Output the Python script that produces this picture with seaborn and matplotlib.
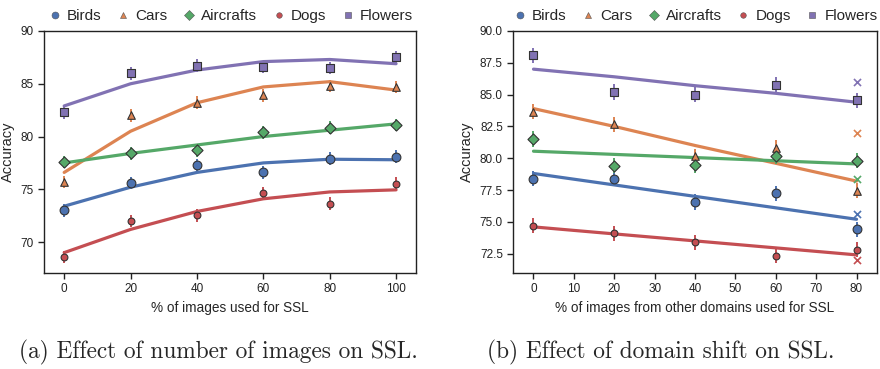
import numpy as np
import pandas as pd
import matplotlib
matplotlib.use("Agg")
import matplotlib.pyplot as plt
from matplotlib.lines import Line2D
import seaborn as sns

# --- data ---
datasets = ["Birds", "Cars", "Aircrafts", "Dogs", "Flowers"]

# (a) % of images used for SSL
pct_used = [0, 20, 40, 60, 80, 100]
acc_used = {
    "Birds":     [73.0, 75.6, 77.3, 76.6, 77.9, 78.1],
    "Cars":      [75.7, 82.0, 83.2, 83.9, 84.8, 84.7],
    "Aircrafts": [77.6, 78.4, 78.7, 80.4, 80.85, 81.1],
    "Dogs":      [68.6, 72.0, 72.55, 74.65, 73.65, 75.55],
    "Flowers":   [82.3, 86.0, 86.7, 86.6, 86.5, 87.5],
}
fit_used = {
    "Birds":     [73.4, 75.2, 76.6, 77.5, 77.85, 77.8],
    "Cars":      [76.6, 80.5, 83.2, 84.7, 85.2, 84.4],
    "Aircrafts": [77.5, 78.4, 79.2, 80.0, 80.6, 81.2],
    "Dogs":      [69.0, 71.2, 72.9, 74.1, 74.75, 74.95],
    "Flowers":   [82.9, 85.0, 86.3, 87.1, 87.3, 86.9],
}

# (b) % of images from other domains
pct_other = [0, 20, 40, 60, 80]
acc_other = {
    "Birds":     [78.4, 78.4, 76.55, 77.25, 74.4],
    "Cars":      [83.65, 82.65, 80.15, 80.8, 77.45],
    "Aircrafts": [81.5, 79.4, 79.45, 80.15, 79.8],
    "Dogs":      [74.7, 74.1, 73.4, 72.35, 72.8],
    "Flowers":   [88.1, 85.2, 85.0, 85.75, 84.55],
}
fit_other = {
    "Birds":     [78.8, 77.9, 77.0, 76.1, 75.2],
    "Cars":      [83.9, 82.5, 81.0, 79.6, 78.2],
    "Aircrafts": [80.55, 80.3, 80.05, 79.8, 79.55],
    "Dogs":      [74.6, 74.05, 73.5, 72.95, 72.4],
    "Flowers":   [87.0, 86.4, 85.7, 85.1, 84.4],
}
# extra 'x' marks at 80%
cross_x = 80
cross_acc = {"Birds": 75.6, "Cars": 82.0, "Aircrafts": 78.35, "Dogs": 72.0, "Flowers": 86.0}

ci_half = 0.6

sns.set_theme(style="ticks")
plt.rcParams["font.family"] = ["Liberation Sans", "DejaVu Sans"]

colors = dict(zip(datasets, sns.color_palette("deep", 5)))
markers = {"Birds": "o", "Cars": "^", "Aircrafts": "D", "Dogs": "o", "Flowers": "s"}
msize = {"Birds": 40, "Cars": 30, "Aircrafts": 32, "Dogs": 24, "Flowers": 32}


def long_df(x, table):
    rows = []
    for name in datasets:
        for xi, yi in zip(x, table[name]):
            rows.append({"x": xi, "acc": yi, "dataset": name})
    return pd.DataFrame(rows)


def draw_panel(ax, x, acc, fit, crosses=None):
    pts = long_df(x, acc)
    lines = long_df(x, fit)
    sns.lineplot(data=lines, x="x", y="acc", hue="dataset", palette=colors,
                 lw=2.3, legend=False, ax=ax, zorder=2)
    for name in datasets:
        d = pts[pts.dataset == name]
        ax.vlines(d.x, d.acc - ci_half, d.acc + ci_half, color=colors[name], lw=1.4, zorder=3)
        sns.scatterplot(data=d, x="x", y="acc", color=colors[name], marker=markers[name],
                        s=msize[name], edgecolor="#333333", linewidth=0.8, ax=ax,
                        legend=False, zorder=4)
    if crosses is not None:
        for name in datasets:
            ax.scatter([cross_x], [crosses[name]], marker="x", color=colors[name],
                       s=26, lw=1.2, zorder=5)
    for sp in ax.spines.values():
        sp.set_visible(True)
        sp.set_linewidth(1.0)
        sp.set_color("#222222")
    ax.tick_params(labelsize=8.5, length=4, width=1, colors="#222222")
    handles = [Line2D([], [], ls="", marker=markers[n], color=colors[n],
                      markeredgecolor="#555555", markeredgewidth=0.4,
                      markersize=5 if n != "Dogs" else 4) for n in datasets]
    ax.legend(handles, datasets, loc="lower center", bbox_to_anchor=(0.5, 1.0),
              ncol=5, frameon=False, fontsize=11, handletextpad=0.3,
              columnspacing=0.9, handlelength=1.0, borderaxespad=0.1)
    ax.set_ylabel("Accuracy", fontsize=10.5)


fig = plt.figure(figsize=(8.8, 3.69), dpi=100)
ax1 = fig.add_axes([0.0503, 0.261, 0.4224, 0.655])
ax2 = fig.add_axes([0.5833, 0.261, 0.413, 0.655])

draw_panel(ax1, pct_used, acc_used, fit_used)
ax1.set_xlim(-6, 106)
ax1.set_ylim(67.1, 90)
ax1.set_xticks([0, 20, 40, 60, 80, 100])
ax1.set_yticks([70, 75, 80, 85, 90])
ax1.set_xlabel("% of images used for SSL", fontsize=9.8)

draw_panel(ax2, pct_other, acc_other, fit_other, crosses=cross_acc)
ax2.set_xlim(-5, 85)
ax2.set_ylim(71.0, 90)
ax2.set_xticks(range(0, 81, 10))
ax2.set_yticks([72.5, 75.0, 77.5, 80.0, 82.5, 85.0, 87.5, 90.0])
ax2.set_yticklabels(["72.5", "75.0", "77.5", "80.0", "82.5", "85.0", "87.5", "90.0"])
ax2.set_xlabel("% of images from other domains used for SSL", fontsize=9.8)

fig.text(0.248, 0.045, "(a) Effect of number of images on SSL.", family="cmr10",
         fontsize=16.8, ha="center", va="center")
fig.text(0.751, 0.045, "(b) Effect of domain shift on SSL.", family="cmr10",
         fontsize=16.8, ha="center", va="center")

fig.savefig("out.png", dpi=100)
